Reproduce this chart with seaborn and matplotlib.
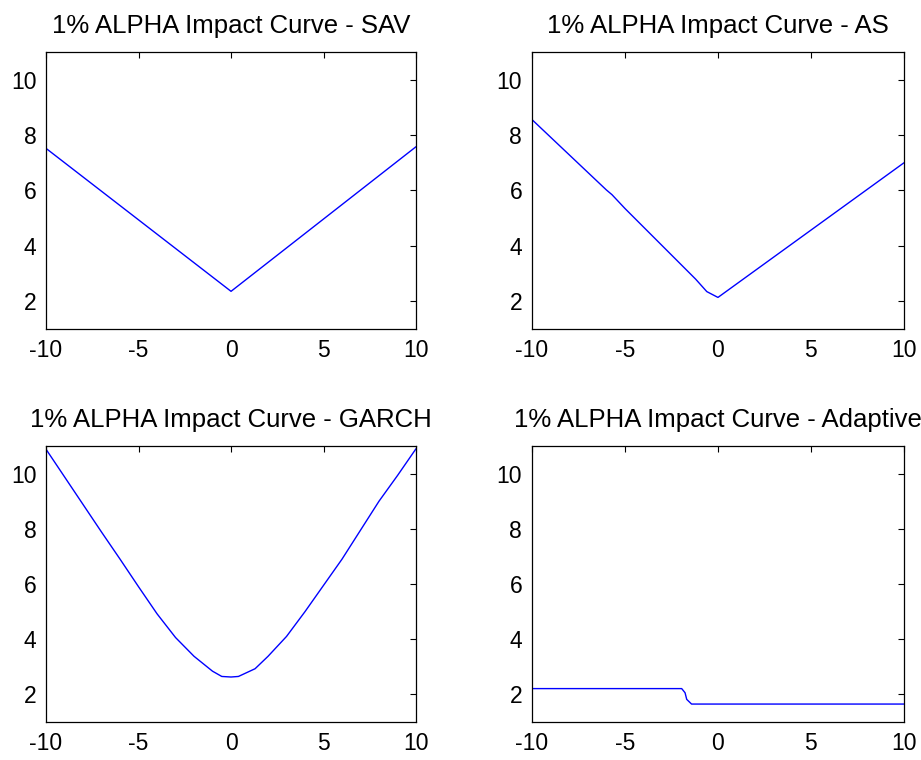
import matplotlib
matplotlib.use("Agg")
import matplotlib.pyplot as plt
import seaborn as sns
import pandas as pd

# Values
sav_x = [-10, 0, 10]
sav_y = [7.52, 2.36, 7.58]

as_x = [-10, -6.0, -5.7, -5.0, -1.2, -0.6, 0, 10]
as_y = [8.56, 6.02, 5.85, 5.35, 2.8, 2.35, 2.14, 7.0]

garch_x = [-10, -9, -8, -7, -6, -5, -4, -3, -2, -1, -0.5, 0, 0.4,
           1.3, 2, 3, 4, 5, 6, 7, 8, 9, 10]
garch_y = [10.88, 9.88, 8.88, 7.88, 6.9, 5.9, 4.92, 4.06, 3.38, 2.84, 2.65, 2.63, 2.65,
           2.93, 3.38, 4.1, 5.0, 5.95, 6.9, 7.95, 9.0, 9.93, 10.9]

adapt_x = [-10, -1.95, -1.77, -1.68, -1.42, 10]
adapt_y = [2.21, 2.21, 2.06, 1.82, 1.65, 1.65]

models = ["SAV", "AS", "GARCH", "Adaptive"]
curves = [(sav_x, sav_y), (as_x, as_y), (garch_x, garch_y), (adapt_x, adapt_y)]

sns.set_style("white")
plt.rcParams['font.family'] = ['Liberation Sans', 'DejaVu Sans']
plt.rcParams['axes.unicode_minus'] = False
plt.rcParams['text.color'] = 'black'

fig = plt.figure(figsize=(9.21, 7.6), dpi=100)

# axes boxes in figure fractions (left, bottom, width, height)
boxes = [
    [0.0500, 0.5671, 0.4017, 0.3645],
    [0.5776, 0.5671, 0.4039, 0.3645],
    [0.0500, 0.0500, 0.4017, 0.3632],
    [0.5776, 0.0500, 0.4039, 0.3632],
]

for name, (xs, ys), box in zip(models, curves, boxes):
    ax = fig.add_axes(box)
    df = pd.DataFrame({'x': xs, 'y': ys})
    sns.lineplot(data=df, x='x', y='y', ax=ax, color='#0000ff', linewidth=1.0,
                 estimator=None, sort=False)
    ax.set_xlim(-10, 10)
    ax.set_ylim(1, 11)
    ax.set_xticks([-10, -5, 0, 5, 10])
    ax.set_yticks([2, 4, 6, 8, 10])
    ax.set_xlabel('')
    ax.set_ylabel('')
    ax.tick_params(direction='in', length=4, width=0.8, colors='black',
                   labelsize=16.5, pad=7, top=True, right=True)
    for s in ax.spines.values():
        s.set_color('black')
        s.set_linewidth(0.9)
        s.set_visible(True)
    ax.set_title(f'1% ALPHA Impact Curve - {name}', fontsize=18.5, pad=14, color='black')

fig.savefig('out.png', dpi=100)
